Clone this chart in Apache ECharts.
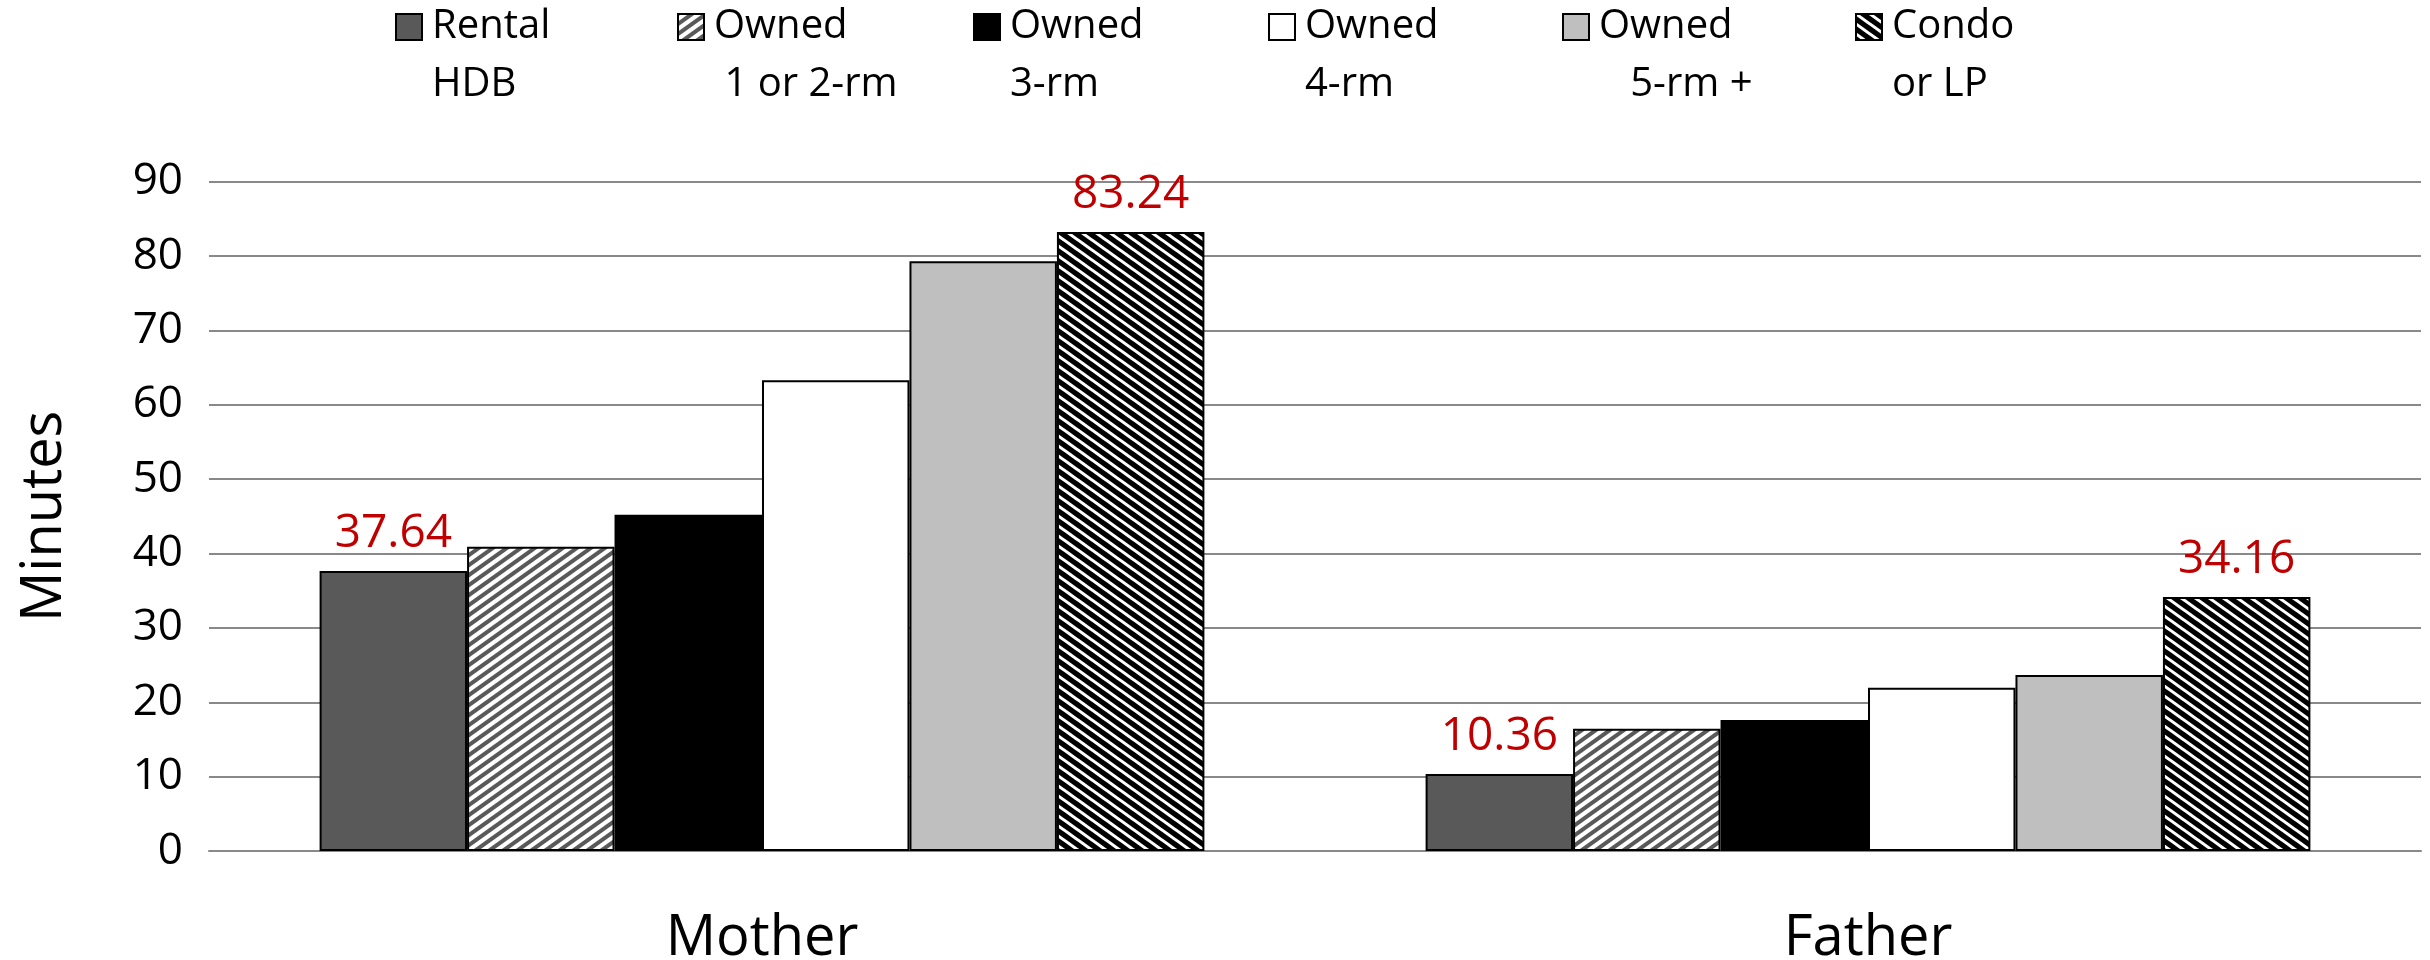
<!DOCTYPE html>
<html><head><meta charset="utf-8">
<script src="https://cdn.jsdelivr.net/npm/echarts@6/dist/echarts.min.js"></script>
<style>html,body{margin:0;padding:0;background:#fff}#c{width:2430px;height:960px}</style>
</head><body><div id="c"></div>
<script>
// ---- data ----
const categories = ['Mother', 'Father'];
const seriesNames = ['Rental HDB', 'Owned 1 or 2-rm', 'Owned 3-rm', 'Owned 4-rm', 'Owned 5-rm +', 'Condo or LP'];
const legendLines = [['Rental', 'HDB'], ['Owned', ' 1 or 2-rm'], ['Owned', '3-rm'], ['Owned', '4-rm'], ['Owned', '   5-rm +'], ['Condo', 'or LP']];
const rentalHDB = [37.64, 10.36];
const owned12 = [40.9, 16.45];
const owned3 = [45.2, 17.6];
const owned4 = [63.3, 21.95];
const owned5 = [79.3, 23.65];
const condoLP = [83.24, 34.16];
const labeledSeries = [0, 5];
const yMin = 0, yMax = 90, yInterval = 10;

// ---- styles ----
const FONT = '"Open Sans", "Noto Sans", sans-serif';
function stripes(bg, fg, dir, lw) {
  const w = 14, h = 10;
  const c = document.createElement('canvas');
  c.width = w; c.height = h;
  const ctx = c.getContext('2d');
  ctx.fillStyle = bg; ctx.fillRect(0, 0, w, h);
  ctx.strokeStyle = fg; ctx.lineWidth = lw;
  for (let k = -2; k <= 2; k++) {
    ctx.beginPath();
    if (dir === 'up') { ctx.moveTo(k * w - w, 2 * h); ctx.lineTo(k * w + 2 * w, -h); }
    else { ctx.moveTo(k * w - w, -h); ctx.lineTo(k * w + 2 * w, 2 * h); }
    ctx.stroke();
  }
  return { image: c, repeat: 'repeat' };
}
const colors = [
  '#595959',
  stripes('#ffffff', '#595959', 'up', 4),
  '#000000',
  '#ffffff',
  '#bfbfbf',
  stripes('#000000', '#ffffff', 'down', 3)
];
const values = [rentalHDB, owned12, owned3, owned4, owned5, condoLP];
const legendLeft = [395, 677, 973, 1268, 1562, 1855];

const series = seriesNames.map((n, i) => ({
  name: n,
  type: 'bar',
  data: values[i],
  barGap: '0%',
  barCategoryGap: '20%',
  itemStyle: { color: colors[i], borderColor: '#000', borderWidth: 2 },
  label: {
    show: labeledSeries.includes(i),
    position: 'top',
    distance: 14,
    color: '#C00000',
    fontSize: 46,
    fontFamily: FONT,
    formatter: p => p.value.toFixed(2)
  }
}));

const legends = seriesNames.map((n, i) => ({
  data: [n],
  left: legendLeft[i],
  top: -60,
  padding: 0,
  icon: 'rect',
  itemWidth: 26,
  itemHeight: 26,
  selectedMode: false,
  formatter: () => '\n' + legendLines[i].join('\n'),
  itemStyle: { borderColor: '#000', borderWidth: 2 },
  textStyle: { fontSize: 40, lineHeight: 58, color: '#000', fontFamily: FONT, padding: [0, 0, 0, 5] }
}));

const chart = echarts.init(document.getElementById('c'));
chart.setOption({
  animation: false,
  backgroundColor: '#fff',
  legend: legends,
  grid: { left: 209, right: 9, top: 181.7, bottom: 109, containLabel: false, outerBoundsMode: 'none' },
  xAxis: {
    type: 'category',
    data: categories,
    axisTick: { show: false },
    axisLine: { lineStyle: { color: '#898989', width: 2 } },
    axisLabel: { fontSize: 56, color: '#000', margin: 60, fontFamily: FONT }
  },
  yAxis: {
    type: 'value',
    min: yMin, max: yMax, interval: yInterval,
    name: 'Minutes',
    nameLocation: 'middle',
    nameGap: 136,
    nameTextStyle: { fontSize: 56, color: '#000', fontFamily: FONT },
    axisLine: { show: false },
    axisTick: { show: false },
    splitLine: { lineStyle: { color: '#898989', width: 2 } },
    axisLabel: { fontSize: 44, color: '#000', margin: 26, fontFamily: FONT }
  },
  series: series
});
</script></body></html>
